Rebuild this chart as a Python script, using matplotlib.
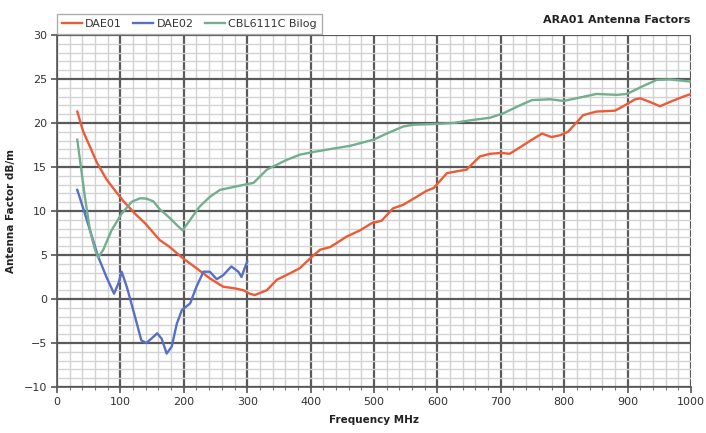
import matplotlib
matplotlib.use("Agg")
import matplotlib.pyplot as plt
from matplotlib.ticker import MultipleLocator

# ---- data ----
dae01_f = [32, 41, 52, 63, 78, 94, 105, 123, 139, 162, 178, 199, 220, 241, 262, 281, 294, 304, 312,
           331, 347, 367, 383, 402, 415, 431, 457, 478, 496, 512, 530, 546, 567, 583, 594, 615, 630,
           646, 667, 683, 701, 714, 736, 749, 765, 780, 793, 806, 820, 830, 851, 880, 893, 912, 920,
           935, 951, 967, 988, 1000]
dae01_v = [21.3, 19.1, 17.3, 15.5, 13.6, 12.1, 11.1, 9.7, 8.6, 6.7, 5.9, 4.6, 3.5, 2.35, 1.4, 1.2, 1.0, 0.6, 0.45,
           1.0, 2.2, 2.9, 3.5, 4.8, 5.6, 5.9, 7.1, 7.8, 8.6, 8.9, 10.3, 10.7, 11.6, 12.3, 12.6, 14.3, 14.5,
           14.7, 16.2, 16.5, 16.6, 16.5, 17.5, 18.1, 18.8, 18.4, 18.6, 19.0, 20.1, 20.9, 21.3, 21.4, 21.9, 22.7, 22.8,
           22.4, 21.9, 22.4, 23.0, 23.3]

dae02_f = [32, 44, 55, 65, 78, 90, 97, 102, 110, 115, 126, 133, 141, 152, 158, 165, 173, 181, 189, 197,
           210, 220, 231, 241, 252, 262, 275, 286, 291, 296, 300]
dae02_v = [12.4, 9.7, 7.1, 4.8, 2.5, 0.6, 1.8, 3.1, 1.4, 0.1, -2.8, -4.7, -5.0, -4.3, -3.9, -4.5, -6.2, -5.4, -2.8, -1.25,
           -0.5, 1.4, 3.1, 3.1, 2.25, 2.7, 3.7, 3.1, 2.5, 3.5, 4.25]

cbl_f = [32, 39, 44, 52, 60, 65, 73, 86, 102, 118, 131, 141, 152, 162, 178, 189, 198, 210, 225, 241, 257,
         283, 310, 331, 362, 383, 404, 436, 462, 499, 520, 546, 562, 601, 625, 651, 683, 704, 730, 749,
         778, 799, 825, 851, 883, 899, 920, 946, 967, 1000]
cbl_v = [18.1, 14.3, 11.6, 7.8, 5.6, 4.7, 5.6, 7.8, 9.7, 11.05, 11.45, 11.4, 11.1, 10.2, 9.2, 8.4, 7.8, 9.0, 10.5, 11.6, 12.4,
         12.8, 13.2, 14.7, 15.8, 16.4, 16.7, 17.1, 17.4, 18.1, 18.8, 19.6, 19.8, 19.9, 20.0, 20.3, 20.6, 21.1, 22.0, 22.6,
         22.7, 22.5, 22.9, 23.3, 23.2, 23.3, 24.05, 24.9, 24.95, 24.7]

series_names = ["DAE01", "DAE02", "CBL6111C Bilog"]
series_colors = ["#ec5b36", "#5670c6", "#72ae8f"]

fig = plt.figure(figsize=(7.06, 4.33), dpi=100)
ax = fig.add_axes([57/706, 1-387/433, (691-57)/706, (387-35)/433])

lines = []
for f, v, name, c in zip([dae01_f, dae02_f, cbl_f], [dae01_v, dae02_v, cbl_v], series_names, series_colors):
    ln, = ax.plot(f, v, color=c, lw=1.7, label=name, solid_joinstyle="round", zorder=3)
    lines.append(ln)

ax.set_xlim(0, 1000)
ax.set_ylim(-10, 30)
ax.xaxis.set_major_locator(MultipleLocator(100))
ax.xaxis.set_minor_locator(MultipleLocator(20))
ax.yaxis.set_major_locator(MultipleLocator(5))
ax.yaxis.set_minor_locator(MultipleLocator(1))
ax.grid(which="minor", color="#d2d2d2", lw=1.0, zorder=0)
ax.grid(which="major", color="#5a5a5a", lw=1.6, zorder=1)
ax.set_axisbelow(True)

for s in ["top", "right"]:
    ax.spines[s].set_visible(False)
for s in ["left", "bottom"]:
    ax.spines[s].set_color("#555555")
    ax.spines[s].set_linewidth(1.2)

ax.tick_params(which="major", direction="out", length=4, width=1.2, color="#555555",
               labelsize=8, labelcolor="#333333", pad=3)
ax.tick_params(which="minor", direction="out", length=2, width=0.8, color="#777777")
ax.tick_params(axis="y", which="minor", length=0)

ax.set_xlabel("Frequency MHz", fontsize=7.5, fontweight="bold", color="#222222", labelpad=6)
ax.set_ylabel("Antenna Factor dB/m", fontsize=7.5, fontweight="bold", color="#222222", labelpad=6)

fig.text(690/706, 1-20/433, "ARA01 Antenna Factors", ha="right", va="center",
         fontsize=8, fontweight="bold", color="#222222")

leg = fig.legend(handles=lines, loc="lower left", bbox_to_anchor=(57/706, 1-34/433),
                 ncol=3, frameon=True, fontsize=8, handlelength=1.8, handletextpad=0.3,
                 columnspacing=1.0, borderpad=0.45, fancybox=False, borderaxespad=0)
leg.get_frame().set_edgecolor("#999999")
leg.get_frame().set_linewidth(1.0)
for t in leg.get_texts():
    t.set_color("#333333")

fig.savefig("out.png", dpi=100)
